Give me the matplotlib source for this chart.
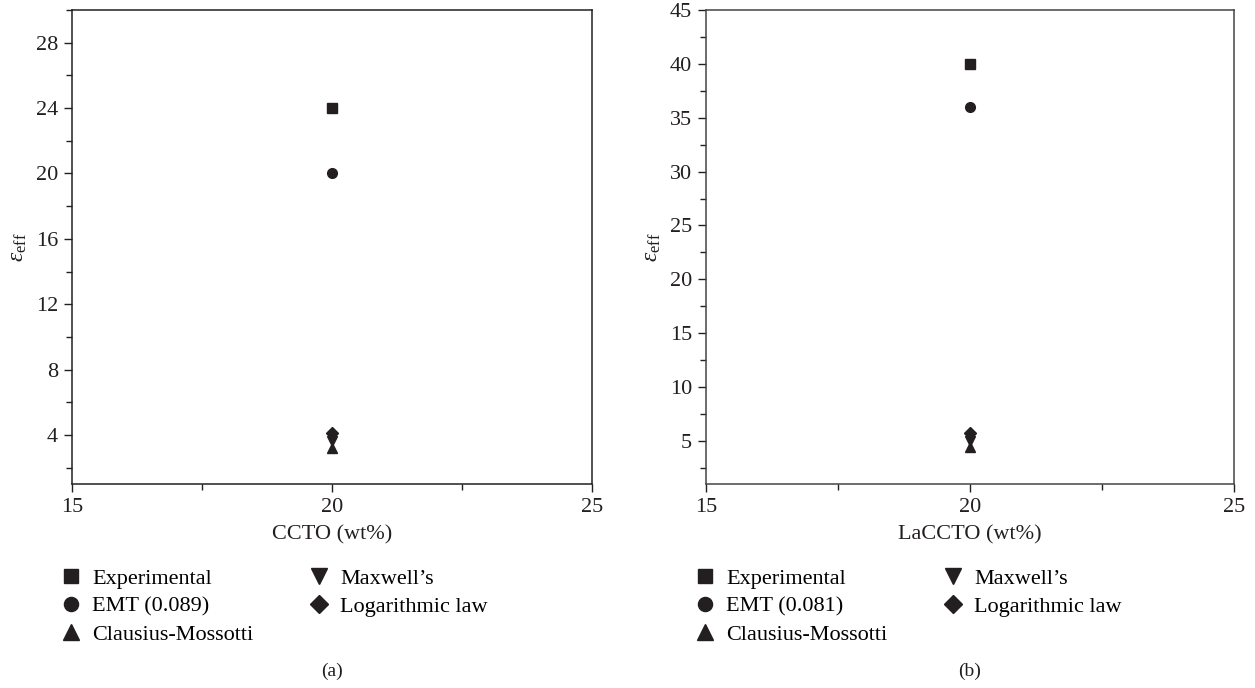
import matplotlib
matplotlib.use("Agg")
import matplotlib.pyplot as plt
from matplotlib.ticker import MultipleLocator

plt.rcParams['font.family'] = ['Liberation Serif', 'DejaVu Serif']
plt.rcParams['mathtext.fontset'] = 'custom'
plt.rcParams['mathtext.rm'] = 'Liberation Serif'
plt.rcParams['mathtext.it'] = 'Liberation Serif:italic'

x_a = [20]
x_b = [20]
labels_a = ["Experimental", "EMT (0.089)", "Clausius-Mossotti", "Maxwell\u2019s", "Logarithmic law"]
labels_b = ["Experimental", "EMT (0.081)", "Clausius-Mossotti", "Maxwell\u2019s", "Logarithmic law"]
values_a = [24, 20, 3.2, 3.65, 4.1]
values_b = [40, 36, 4.4, 5.0, 5.7]
markers = ["s", "o", "^", "v", "D"]
msizes = [6.5, 7, 7.5, 7.5, 6.5]
yticks_a = [4, 8, 12, 16, 20, 24, 28]
yticks_b = [5, 10, 15, 20, 25, 30, 35, 40, 45]
xticks = [15, 20, 25]

fig = plt.figure(figsize=(12.55, 6.88), dpi=100)
ax1 = fig.add_axes([72/1255, 1-484/688, 520/1255, 474/688])
ax2 = fig.add_axes([706/1255, 1-484/688, 528/1255, 474/688])

def draw(ax, xs, vals, labels, yticks, ylim, yminor, xlabel, sub, spine_col):
    handles = []
    for v, m, ms, lab in zip(vals, markers, msizes, labels):
        h, = ax.plot(xs, [v], linestyle='none', marker=m, markersize=ms,
                     color='#231f20', label=lab)
        handles.append(h)
    ax.set_xlim(15, 25)
    ax.set_ylim(*ylim)
    ax.set_xticks(xticks)
    ax.set_yticks(yticks)
    ax.xaxis.set_minor_locator(MultipleLocator(2.5))
    ax.yaxis.set_minor_locator(MultipleLocator(yminor))
    ax.tick_params(which='both', direction='out', top=False, right=False,
                   labelsize=16, colors='#231f20', width=1)
    ax.tick_params(which='major', length=6, pad=4)
    ax.tick_params(which='minor', length=4)
    for s in ax.spines.values():
        s.set_color(spine_col)
        s.set_linewidth(1.1)
    ax.set_xlabel(xlabel, fontsize=16, color='#231f20', labelpad=6)
    ax.set_ylabel(r'$\varepsilon_{\rm eff}$', fontsize=17, color='#231f20', labelpad=5)
    ax.legend(handles=handles, loc='upper left', bbox_to_anchor=(-0.04, -0.159),
              ncol=2, frameon=False, fontsize=16, handlelength=1.0,
              handletextpad=0.45, labelspacing=0.33, columnspacing=2.45,
              borderaxespad=0, markerscale=1.45)
    ax.text(0.5, -0.395, sub, transform=ax.transAxes, ha='center', va='center',
            fontsize=14, color='#231f20')

draw(ax1, x_a, values_a, labels_a, yticks_a, (1, 30), 2, 'CCTO (wt%)', '(a)', '#231f20')
draw(ax2, x_b, values_b, labels_b, yticks_b, (1, 45), 2.5, 'LaCCTO (wt%)', '(b)', '#444444')

fig.savefig('out.png', dpi=100)
